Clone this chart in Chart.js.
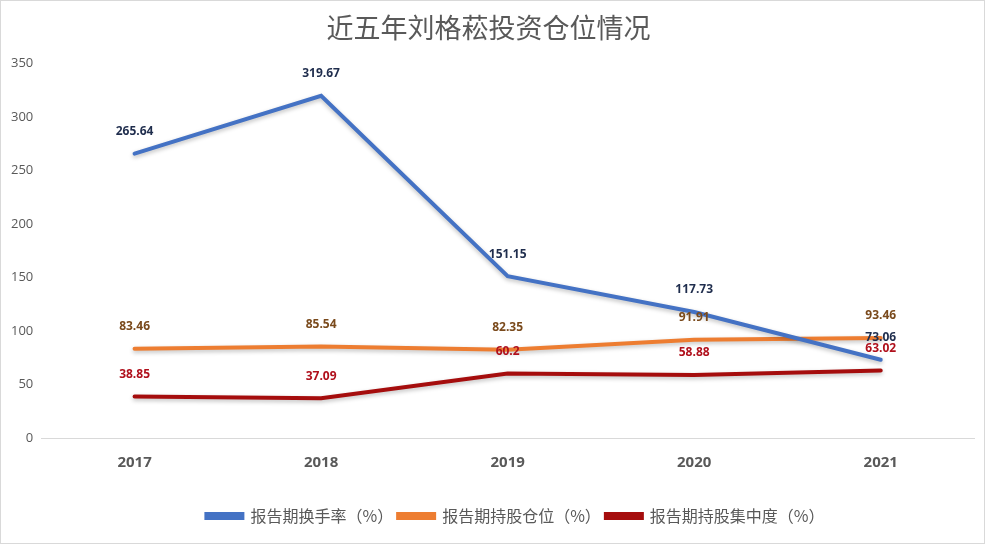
<!DOCTYPE html>
<html>
<head>
<meta charset="utf-8">
<script src="https://cdn.jsdelivr.net/npm/chart.js@4/dist/chart.umd.min.js"></script>
<style>
  html, body { margin: 0; padding: 0; background: #fff; }
  #wrap { width: 985px; height: 544px; box-sizing: border-box; border: 1px solid #d9d9d9; }
  canvas { display: block; }
</style>
</head>
<body>
<div id="wrap"><canvas id="positionChart" width="983" height="542"></canvas></div>
<script>
// chart data
const years = ['2017', '2018', '2019', '2020', '2021'];
const turnover = [265.64, 319.67, 151.15, 117.73, 73.06];
const position = [83.46, 85.54, 82.35, 91.91, 93.46];
const concentration = [38.85, 37.09, 60.2, 58.88, 63.02];
const yTicks = [0, 50, 100, 150, 200, 250, 300, 350];

const CJK = '"Noto Sans CJK SC", "Noto Sans", sans-serif';

// draw the value above each point (no datalabels plugin offline)
const valueLabels = {
  id: 'valueLabels',
  afterDatasetsDraw(chart) {
    const ctx = chart.ctx;
    ctx.save();
    ctx.font = 'bold 12px "Open Sans", "DejaVu Sans", sans-serif';
    ctx.textAlign = 'center';
    ctx.textBaseline = 'middle';
    chart.data.datasets.forEach((ds, i) => {
      const meta = chart.getDatasetMeta(i);
      ctx.fillStyle = ds.labelColor;
      meta.data.forEach((pt, j) => {
        ctx.fillText(String(ds.data[j]), pt.x, pt.y - 22);
      });
    });
    ctx.restore();
  }
};

// soft drop shadow under the lines
const lineShadow = {
  id: 'lineShadow',
  beforeDatasetsDraw(chart) {
    const ctx = chart.ctx;
    ctx.save();
    ctx.shadowColor = 'rgba(0,0,0,0.25)';
    ctx.shadowBlur = 4;
    ctx.shadowOffsetY = 2;
  },
  afterDatasetsDraw(chart) {
    chart.ctx.restore();
  }
};

// the original legend sits a little right of centre
const legendNudge = {
  id: 'legendNudge',
  afterLayout(chart) {
    if (chart.legend) {
      chart.legend.left += 27;
      chart.legend.right += 27;
    }
  }
};

const ctx = document.getElementById('positionChart').getContext('2d');
new Chart(ctx, {
  type: 'line',
  data: {
    labels: years,
    datasets: [
      {
        label: '报告期换手率（%）',
        data: turnover,
        borderColor: '#4472c4',
        backgroundColor: '#4472c4',
        labelColor: '#1f2d4d',
        borderWidth: 4,
        pointRadius: 0,
        borderCapStyle: 'round',
        tension: 0
      },
      {
        label: '报告期持股仓位（%）',
        data: position,
        borderColor: '#ed7d31',
        backgroundColor: '#ed7d31',
        labelColor: '#7a4a1c',
        borderWidth: 4,
        pointRadius: 0,
        borderCapStyle: 'round',
        tension: 0
      },
      {
        label: '报告期持股集中度（%）',
        data: concentration,
        borderColor: '#a50d0d',
        backgroundColor: '#a50d0d',
        labelColor: '#b0101c',
        borderWidth: 4,
        pointRadius: 0,
        borderCapStyle: 'round',
        tension: 0
      }
    ]
  },
  options: {
    responsive: false,
    animation: false,
    layout: { padding: { left: 2, right: 10, bottom: 9 } },
    plugins: {
      title: {
        display: true,
        text: '近五年刘格菘投资仓位情况',
        color: '#595959',
        font: { family: CJK, size: 27, weight: 'normal' },
        padding: { top: 11, bottom: 19 }
      },
      legend: {
        position: 'bottom',
        labels: {
          color: '#595959',
          font: { family: CJK, size: 16 },
          boxWidth: 36,
          boxHeight: 4,
          padding: 5
        }
      },
      tooltip: { enabled: false }
    },
    scales: {
      y: {
        min: 0,
        max: 350,
        afterBuildTicks: axis => { axis.ticks = yTicks.map(v => ({ value: v })); },
        grid: { display: false, drawTicks: false },
        border: { display: false },
        ticks: {
          color: '#595959',
          padding: 8,
          font: { family: '"Open Sans", "DejaVu Sans", sans-serif', size: 13 }
        }
      },
      x: {
        offset: true,
        afterFit: axis => { axis.height += 15; },
        grid: { display: false, drawTicks: false },
        border: { display: true, color: '#d9d9d9', width: 1 },
        ticks: {
          color: '#595959',
          padding: 16,
          font: { family: '"Open Sans", "DejaVu Sans", sans-serif', size: 15, weight: 'bold' }
        }
      }
    }
  },
  plugins: [lineShadow, valueLabels, legendNudge]
});
</script>
</body>
</html>
